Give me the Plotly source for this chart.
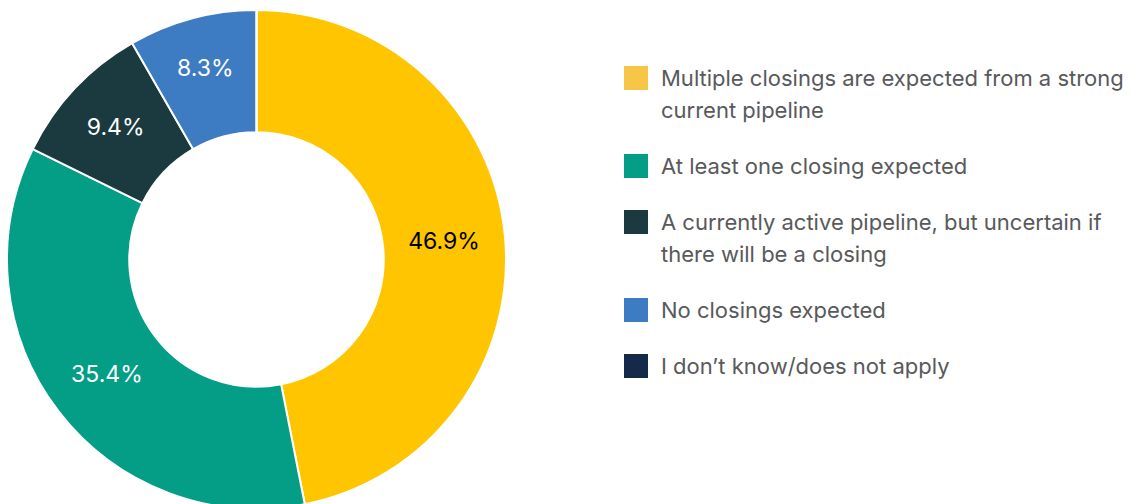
import plotly.graph_objects as go

# Survey responses (share of respondents, %)
labels = [
    "Multiple closings are expected from a strong<br>current pipeline",
    "At least one closing expected",
    "A currently active pipeline, but uncertain if<br>there will be a closing",
    "No closings expected",
    "I don\u2019t know/does not apply",
]
values = [46.9, 35.4, 9.4, 8.3, 0.0]
slice_colors = ["#FFC500", "#049E87", "#1B3A3F", "#3D7BC3", "#15294A"]
legend_colors = ["#F8C646", "#049E87", "#1B3A3F", "#3D7BC3", "#15294A"]
label_text_colors = ["#000000", "#FFFFFF", "#FFFFFF", "#FFFFFF", "#FFFFFF"]

W, H = 1130, 509
FONT = "Inter"

# donut geometry in pixels
cx, r = 256.5, 249.5
top = 10

fig = go.Figure(
    go.Pie(
        labels=labels,
        values=values,
        sort=False,
        direction="clockwise",
        rotation=0,
        hole=0.51,
        marker=dict(colors=slice_colors, line=dict(color="#FFFFFF", width=2)),
        texttemplate=["%{value:.1f}%" if v > 0 else "" for v in values],
        textposition="inside",
        insidetextorientation="horizontal",
        insidetextfont=dict(family=FONT, size=23, color=label_text_colors),
        hoverinfo="label+percent",
        showlegend=False,
        domain=dict(
            x=[(cx - r) / W, (cx + r) / W],
            y=[(H - top - 2 * r) / H, (H - top) / H],
        ),
    )
)

# legend: colour swatch plus wrapped text, one row per category
shapes, annotations = [], []
sq = 24
sq_x0 = 624
text_x = 659
line_gap = 32
item_gap = 56
y = 78
for lab, col in zip(labels, legend_colors):
    lines = lab.split("<br>")
    shapes.append(dict(
        type="rect", xref="paper", yref="paper",
        x0=sq_x0 / W, x1=(sq_x0 + sq) / W,
        y0=(H - (y + sq / 2)) / H, y1=(H - (y - sq / 2)) / H,
        fillcolor=col, line=dict(width=0),
    ))
    for k, ln in enumerate(lines):
        annotations.append(dict(
            text=ln, xref="paper", yref="paper",
            x=text_x / W, y=(H - (y + k * line_gap)) / H,
            xanchor="left", yanchor="middle", showarrow=False,
            font=dict(family=FONT, size=22, color="#58595B"),
        ))
    y += (len(lines) - 1) * line_gap + item_gap

fig.update_layout(
    width=W, height=H,
    margin=dict(l=0, r=0, t=0, b=0),
    paper_bgcolor="#FFFFFF",
    plot_bgcolor="#FFFFFF",
    shapes=shapes,
    annotations=annotations,
)

fig.write_html(
    "out.html",
    post_script="document.documentElement.style.overflow='hidden';document.body.style.overflow='hidden';document.body.style.margin='0';",
)
